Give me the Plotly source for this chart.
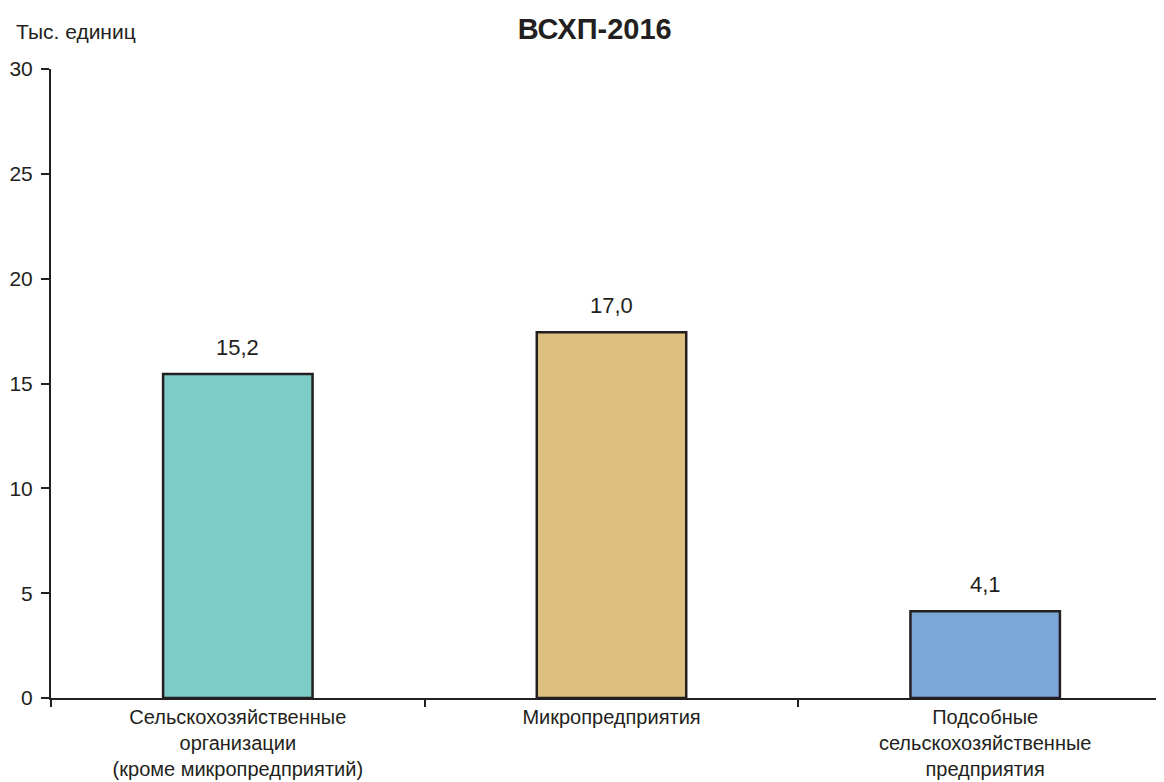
import plotly.graph_objects as go

categories = [
    "Сельскохозяйственные<br>организации<br>(кроме микропредприятий)",
    "Микропредприятия",
    "Подсобные<br>сельскохозяйственные<br>предприятия",
]
bar_heights = [15.45, 17.45, 4.14]
value_labels = ["15,2", "17,0", "4,1"]
colors = ["#7ECCC7", "#DDBF7F", "#7BA6D8"]
y_ticks = [0, 5, 10, 15, 20, 25, 30]

font = "Liberation Sans, Arial, sans-serif"
ink = "#231f20"

fig = go.Figure(
    go.Bar(
        x=categories,
        y=bar_heights,
        width=0.4,
        marker=dict(color=colors, line=dict(color=ink, width=2.5)),
        hoverinfo="skip",
    )
)

annotations = [
    dict(
        x=c,
        y=h,
        xref="x",
        yref="y",
        text=t,
        showarrow=False,
        yanchor="middle",
        yshift=27,
        font=dict(size=22, family=font, color=ink),
    )
    for c, h, t in zip(categories, bar_heights, value_labels)
]
annotations.append(
    dict(
        text="Тыс. единиц",
        xref="paper",
        yref="paper",
        x=-0.033,
        y=1.059,
        xanchor="left",
        yanchor="middle",
        showarrow=False,
        font=dict(size=21, family=font, color=ink),
    )
)

fig.update_layout(
    width=1164,
    height=782,
    margin=dict(l=43, r=0, t=61, b=92),
    paper_bgcolor="white",
    plot_bgcolor="white",
    showlegend=False,
    font=dict(family=font, color=ink, size=21),
    title=dict(
        text="<b>ВСХП-2016</b>",
        x=0.504,
        xanchor="center",
        y=0.973,
        yanchor="middle",
        font=dict(size=29, family=font, color=ink),
    ),
    annotations=annotations,
)

fig.update_xaxes(
    type="category",
    range=[-0.5, 2.5],
    tickson="boundaries",
    ticks="outside",
    ticklen=7,
    tickwidth=1.5,
    tickcolor=ink,
    showline=True,
    linecolor=ink,
    linewidth=1.5,
    showgrid=False,
    tickfont=dict(size=20, family=font, color=ink),
)

fig.update_yaxes(
    range=[0, 30],
    tickvals=y_ticks,
    ticks="outside",
    ticklen=8,
    tickwidth=1.5,
    tickcolor=ink,
    ticklabelstandoff=4,
    showline=True,
    linecolor=ink,
    linewidth=2,
    showgrid=False,
    zeroline=False,
    tickfont=dict(size=21, family=font, color=ink),
)

fig.write_html("out.html")
